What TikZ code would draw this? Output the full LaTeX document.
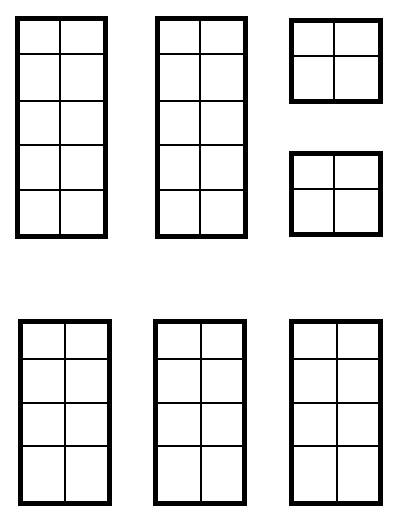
\documentclass[tikz,border=0pt]{standalone}
\begin{document}
\begin{tikzpicture}[x=1pt,y=-1pt,
  frame/.style={draw=black,line width=5pt},
  bar/.style={draw=black,line width=2pt}]
\useasboundingbox (0,0) rectangle (412,529);
% window macro: outer x1,y1,x2,y2 ; vertical bar x ; list of horizontal bars
\newcommand{\mywin}[6]{%
  \draw[bar] (#5,#2) -- (#5,#4);
  \foreach \hy in {#6} {\draw[bar] (#1,\hy) -- (#3,\hy);}
  \draw[frame] (#1+2.5,#2+2.5) rectangle (#3-2.5,#4-2.5);
}
\mywin{15}{16}{108}{239}{60}{54,101,145,190}
\mywin{155}{16}{248}{239}{200}{54,101,145,190}
\mywin{289}{18}{383}{104}{334}{56}
\mywin{289}{151}{383}{237}{334}{189}
\mywin{18}{319}{112}{506}{64.5}{359,403,446}
\mywin{153}{319}{247}{506}{200.5}{359,403,446}
\mywin{289}{319}{383}{506}{336.5}{359,403,446}
\end{tikzpicture}
\end{document}
